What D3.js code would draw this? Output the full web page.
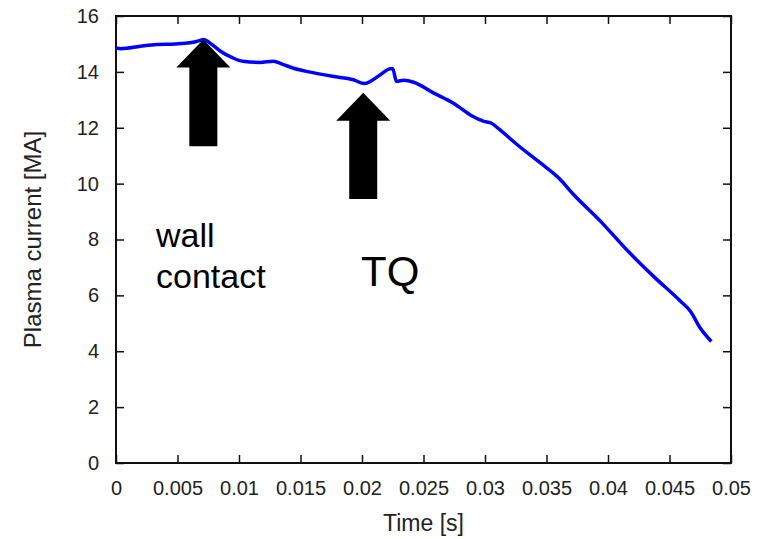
<!DOCTYPE html>
<meta charset="utf-8">
<style>
 body {
   margin: 0;
   background: #fff;
 }

 svg {
   font-family: "Liberation Sans", Arial, sans-serif;
 }

 .axis text {
   fill: #222;
   font-size: 20px;
 }

 .axis line {
   stroke: #111;
   stroke-width: 1.5;
 }

 .frame {
   fill: none;
   stroke: #111;
   stroke-width: 2;
 }

 .current {
   fill: none;
   stroke: #0000ff;
   stroke-width: 3.5;
   stroke-linejoin: round;
 }

 .arrow {
   fill: #000;
 }

 .note {
   fill: #000;
 }
</style>

<svg width="760" height="539"></svg>

<script src="https://cdn.jsdelivr.net/npm/d3@7"></script>
<script>

 // time [s] and plasma current [MA]
 var time = [0, 0.0004, 0.0020, 0.0033, 0.0048, 0.0060, 0.0068, 0.0071, 0.0078,
             0.0085, 0.0095, 0.0103, 0.0117, 0.0128, 0.0135, 0.0145, 0.0158, 0.0176,
             0.0193, 0.0202, 0.0215, 0.0223, 0.0225, 0.0228, 0.0234, 0.0242,
             0.0258, 0.0274, 0.0290, 0.0299, 0.0305, 0.0312, 0.0326, 0.0345,
             0.0360, 0.0372, 0.0394, 0.0415, 0.0437, 0.0459, 0.0467, 0.0475,
             0.0484]
 var current = [14.86, 14.83, 14.92, 14.98, 15.0, 15.04, 15.12, 15.16, 14.98,
                14.74, 14.5, 14.38, 14.34, 14.38, 14.28, 14.12, 13.99, 13.84,
                13.72, 13.58, 13.90, 14.11, 14.11, 13.66, 13.70, 13.63,
                13.25, 12.89, 12.41, 12.23, 12.17, 11.93, 11.40, 10.74,
                10.20, 9.61, 8.65, 7.64, 6.68, 5.79, 5.43, 4.83,
                4.35]

 var xTicks = [0, 0.005, 0.01, 0.015, 0.02, 0.025, 0.03, 0.035, 0.04, 0.045, 0.05]
 var xTickLabels = ['0', '0.005', '0.01', '0.015', '0.02', '0.025', '0.03', '0.035', '0.04', '0.045', '0.05']
 var yTicks = [0, 2, 4, 6, 8, 10, 12, 14, 16]

 // arrows: x position, tip and tail in data units
 var arrowTime = [0.0071, 0.0201]
 var arrowTip = [15.16, 13.25]
 var arrowTail = [11.34, 9.45]

 var svg = d3.select('svg')
 var margin = {top: 16, right: 29, bottom: 76, left: 116}
 var width = 760 - margin.left - margin.right
 var height = 539 - margin.top - margin.bottom

 var g = svg.append('g')
            .attr('transform', `translate(${margin.left},${margin.top})`)

 var x = d3.scaleLinear().domain([0, 0.05]).range([0, width])
 var y = d3.scaleLinear().domain([0, 16]).range([height, 0])

 var tick = 8

 g.append('g')
  .attr('class', 'axis')
  .attr('transform', `translate(0,${height})`)
  .call(d3.axisBottom(x).tickValues(xTicks).tickSize(-tick).tickSizeOuter(0)
          .tickFormat((d, i) => xTickLabels[i]).tickPadding(18))
  .call(a => a.select('.domain').remove())

 g.append('g')
  .attr('class', 'axis')
  .call(d3.axisTop(x).tickValues(xTicks).tickSize(-tick).tickSizeOuter(0).tickFormat(''))
  .call(a => a.select('.domain').remove())

 g.append('g')
  .attr('class', 'axis')
  .call(d3.axisLeft(y).tickValues(yTicks).tickSize(-tick).tickSizeOuter(0).tickPadding(17))
  .call(a => a.select('.domain').remove())

 g.append('g')
  .attr('class', 'axis')
  .attr('transform', `translate(${width},0)`)
  .call(d3.axisRight(y).tickValues(yTicks).tickSize(-tick).tickSizeOuter(0).tickFormat(''))
  .call(a => a.select('.domain').remove())

 g.append('rect')
  .attr('class', 'frame')
  .attr('width', width)
  .attr('height', height)

 var line = d3.line()
              .x((d, i) => x(time[i]))
              .y(d => y(d))
              .curve(d3.curveMonotoneX)

 g.append('path')
  .datum(current)
  .attr('class', 'current')
  .attr('d', line)

 // block arrows
 var headHalf = 27, shaftHalf = 14, headLen = 28
 arrowTime.forEach(function (t, i) {
   var cx = x(t), top = y(arrowTip[i]), bot = y(arrowTail[i])
   var pts = [[cx, top], [cx + headHalf, top + headLen], [cx + shaftHalf, top + headLen],
              [cx + shaftHalf, bot], [cx - shaftHalf, bot], [cx - shaftHalf, top + headLen],
              [cx - headHalf, top + headLen]]
   g.append('path')
    .attr('class', 'arrow')
    .attr('d', 'M' + pts.join('L') + 'Z')
 })

 g.append('text')
  .attr('class', 'note')
  .attr('x', 40)
  .attr('y', 231)
  .style('font-size', '34px')
  .text('wall')
 g.append('text')
  .attr('class', 'note')
  .attr('x', 40)
  .attr('y', 272)
  .style('font-size', '34px')
  .text('contact')
 g.append('text')
  .attr('class', 'note')
  .attr('x', 245)
  .attr('y', 270)
  .style('font-size', '42px')
  .text('TQ')

 svg.append('text')
    .attr('x', margin.left + width / 2)
    .attr('y', 531)
    .attr('text-anchor', 'middle')
    .style('font-size', '23px')
    .style('fill', '#222')
    .text('Time [s]')

 svg.append('text')
    .attr('transform', `translate(41,${margin.top + height / 2}) rotate(-90)`)
    .attr('text-anchor', 'middle')
    .style('font-size', '24px')
    .style('fill', '#222')
    .text('Plasma current [MA]')

</script>
